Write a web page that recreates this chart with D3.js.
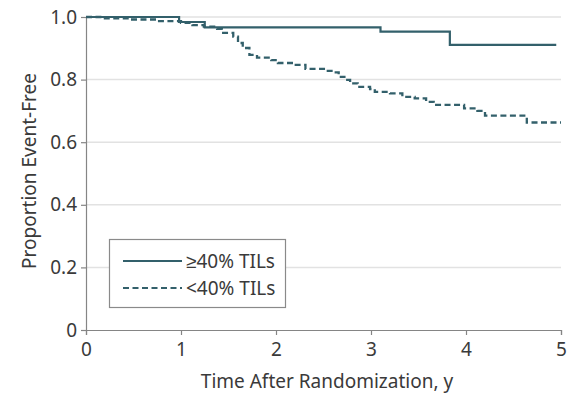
<!DOCTYPE html>
<html>
<head>
<meta charset="utf-8">
<script src="https://cdn.jsdelivr.net/npm/d3@7"></script>
<style>
  body { margin: 0; background: #fff; }
  text { font-family: "Noto Sans", sans-serif; fill: #3a3a3a; }
</style>
</head>
<body>
<script>
var width = 570, height = 393;

// Kaplan-Meier steps: [time (y), proportion event-free after step]
var highTILs = [[0, 1.0], [0.98, 0.984], [1.25, 0.967], [3.1, 0.953], [3.83, 0.911], [4.95, 0.911]];
var lowTILs = [
  [0, 1.0], [0.15, 0.996], [0.45, 0.992], [0.75, 0.987], [1.0, 0.981],
  [1.12, 0.974], [1.24, 0.969], [1.38, 0.962], [1.43, 0.949], [1.55, 0.937],
  [1.6, 0.917], [1.65, 0.901], [1.72, 0.879], [1.8, 0.870], [1.95, 0.862],
  [2.02, 0.853], [2.18, 0.847], [2.31, 0.834], [2.53, 0.828], [2.6, 0.823],
  [2.66, 0.809], [2.72, 0.799], [2.78, 0.788], [2.86, 0.777], [2.99, 0.770],
  [3.04, 0.761], [3.2, 0.756], [3.33, 0.745], [3.46, 0.740], [3.58, 0.729],
  [3.66, 0.719], [3.98, 0.708], [4.12, 0.700], [4.2, 0.685], [4.64, 0.663],
  [5.0, 0.663]
];
var xTicks = [0, 1, 2, 3, 4, 5];
var yTicks = [0, 0.2, 0.4, 0.6, 0.8, 1.0];
var legendLabels = ["\u226540% TILs", "<40% TILs"];

var lineColor = "#33606b";
var fontSize = 19;
var dash = "6,3.5";

var svg = d3.select("body").append("svg")
  .attr("width", width)
  .attr("height", height);

var x = d3.scaleLinear().domain([0, 5]).range([86, 561]);
var y = d3.scaleLinear().domain([0, 1]).range([330, 17]);

// gridlines
svg.append("g")
  .selectAll("line")
  .data(yTicks.filter(function(d) { return d > 0; }))
  .enter().append("line")
  .attr("x1", x(0)).attr("x2", x(5))
  .attr("y1", function(d) { return y(d); })
  .attr("y2", function(d) { return y(d); })
  .attr("stroke", "#e2e2e2")
  .attr("stroke-width", 1.5);

var xAxis = svg.append("g")
  .attr("transform", "translate(0," + y(0) + ")")
  .call(d3.axisBottom(x).tickValues(xTicks).tickSize(5).tickPadding(8)
    .tickFormat(d3.format("d")));

var yAxis = svg.append("g")
  .attr("transform", "translate(" + x(0) + ",0)")
  .call(d3.axisLeft(y).tickValues(yTicks).tickSize(5).tickPadding(4)
    .tickFormat(function(d) { return d === 0 ? "0" : d3.format(".1f")(d); }));

[xAxis, yAxis].forEach(function(ax) {
  ax.select(".domain").attr("stroke", "#858585").attr("stroke-width", 1.2);
  ax.selectAll(".tick line").attr("stroke", "#858585").attr("stroke-width", 1.2);
  ax.selectAll(".tick text")
    .attr("font-family", "Noto Sans, sans-serif")
    .attr("font-size", fontSize)
    .attr("fill", "#3a3a3a");
});

var line = d3.line()
  .x(function(d) { return x(d[0]); })
  .y(function(d) { return y(d[1]); })
  .curve(d3.curveStepAfter);

svg.append("path")
  .datum(lowTILs)
  .attr("d", line)
  .attr("fill", "none")
  .attr("stroke", lineColor)
  .attr("stroke-width", 2.3)
  .attr("stroke-dasharray", dash);

svg.append("path")
  .datum(highTILs)
  .attr("d", line)
  .attr("fill", "none")
  .attr("stroke", lineColor)
  .attr("stroke-width", 2.2);

// axis titles
svg.append("text")
  .attr("x", 327)
  .attr("y", 388)
  .attr("text-anchor", "middle")
  .attr("font-size", fontSize)
  .text("Time After Randomization, y");

svg.append("text")
  .attr("transform", "translate(36,171) rotate(-90)")
  .attr("text-anchor", "middle")
  .attr("font-size", fontSize)
  .text("Proportion Event-Free");

// legend
var legend = svg.append("g");
legend.append("rect")
  .attr("x", 109.5).attr("y", 239.5)
  .attr("width", 176).attr("height", 68)
  .attr("fill", "#fff")
  .attr("stroke", "#8a8a8a")
  .attr("stroke-width", 1.2);

legend.selectAll("line.key")
  .data(legendLabels)
  .enter().append("line")
  .attr("class", "key")
  .attr("x1", 123).attr("x2", 182)
  .attr("y1", function(d, i) { return 261 + i * 27; })
  .attr("y2", function(d, i) { return 261 + i * 27; })
  .attr("stroke", lineColor)
  .attr("stroke-width", 2.2)
  .attr("stroke-dasharray", function(d, i) { return i === 1 ? dash : null; });

legend.selectAll("text.key")
  .data(legendLabels)
  .enter().append("text")
  .attr("class", "key")
  .attr("x", 186)
  .attr("y", function(d, i) { return 268 + i * 27; })
  .attr("font-size", fontSize)
  .text(function(d) { return d; });
</script>
</body>
</html>
